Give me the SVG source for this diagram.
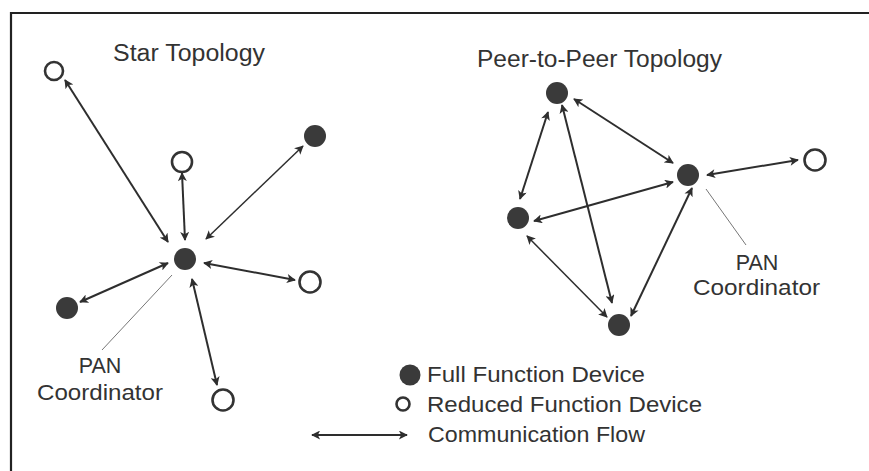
<svg xmlns="http://www.w3.org/2000/svg" width="869" height="471" viewBox="0 0 869 471">
<style>
  .t { font-family: "Liberation Sans", Arial, sans-serif; fill: #333; }
  .title { font-size: 23px; }
  .lbl { font-size: 21.5px; }
  .ffd { fill: #3a3a3a; }
  .rfd { fill: #fff; stroke: #333; stroke-width: 2.6; }
  .c { stroke: #2e2e2e; stroke-width: 2; fill: none; marker-start: url(#ah); marker-end: url(#ah); }
  .cthin { stroke-width: 1.5; }
  .lead { stroke: #777; stroke-width: 1; fill: none; }
</style>
<defs>
  <marker id="ah" viewBox="0 0 10 10" refX="9" refY="5" markerWidth="10" markerHeight="9" markerUnits="userSpaceOnUse" orient="auto-start-reverse">
    <path d="M0,0 L10,5 L0,10 L2.5,5 z" fill="#2e2e2e"/>
  </marker>
</defs>
<rect width="869" height="471" fill="#fff"/>
<g id="frame" stroke="#222" stroke-width="2.2">
  <line x1="10" y1="13" x2="869" y2="13"/>
  <line x1="11" y1="12" x2="11" y2="471"/>
</g>

<g id="connectors">
  <!-- star -->
  <line class="c" x1="65" y1="80" x2="168" y2="242"/>
  <line class="c" x1="182" y1="173" x2="185" y2="240"/>
  <line class="c cthin" x1="303" y1="146" x2="206" y2="239"/>
  <line class="c" x1="168" y1="263" x2="80" y2="302"/>
  <line class="c" x1="204" y1="263" x2="295" y2="280"/>
  <line class="c" x1="192" y1="279" x2="217" y2="385"/>
  <!-- peer to peer -->
  <line class="c" x1="574" y1="99" x2="673" y2="163"/>
  <line class="c" x1="548" y1="112" x2="520" y2="199"/>
  <line class="c" x1="562" y1="105" x2="612" y2="303"/>
  <line class="c" x1="534" y1="221" x2="673" y2="182"/>
  <line class="c cthin" x1="527" y1="236" x2="607" y2="317"/>
  <line class="c" x1="631" y1="316" x2="692" y2="188"/>
  <line class="c" x1="707" y1="175" x2="798" y2="160"/>
  <!-- legend -->
  <line class="c" x1="312" y1="435" x2="407" y2="435"/>
  <!-- leaders -->
  <line class="lead" x1="172" y1="275" x2="102" y2="350"/>
  <line class="lead" x1="706" y1="189" x2="746" y2="245"/>
</g>

<g id="star-title"><text class="t title" x="113" y="61" textLength="152" lengthAdjust="spacingAndGlyphs">Star Topology</text></g>
<g id="p2p-title"><text class="t title" x="477" y="67" textLength="245" lengthAdjust="spacingAndGlyphs">Peer-to-Peer Topology</text></g>

<g id="star-center"><circle class="ffd" cx="185" cy="259" r="11"/></g>
<g id="star-rfd-tl"><circle class="rfd" cx="54" cy="71" r="9"/></g>
<g id="star-rfd-top"><circle class="rfd" cx="182" cy="162" r="10"/></g>
<g id="star-ffd-tr"><circle class="ffd" cx="315" cy="136" r="11"/></g>
<g id="star-ffd-left"><circle class="ffd" cx="67" cy="308" r="11"/></g>
<g id="star-rfd-right"><circle class="rfd" cx="310" cy="282" r="10.5"/></g>
<g id="star-rfd-bottom"><circle class="rfd" cx="223" cy="400" r="10.5"/></g>
<g id="star-pan-label">
  <text class="t lbl" x="100" y="373" text-anchor="middle">PAN</text>
  <text class="t lbl" x="37" y="400" textLength="126" lengthAdjust="spacingAndGlyphs">Coordinator</text>
</g>

<g id="p2p-top"><circle class="ffd" cx="557" cy="93" r="11"/></g>
<g id="p2p-left"><circle class="ffd" cx="518" cy="218" r="11"/></g>
<g id="p2p-bottom"><circle class="ffd" cx="619" cy="325" r="11"/></g>
<g id="p2p-pan"><circle class="ffd" cx="688" cy="175" r="11"/></g>
<g id="p2p-rfd"><circle class="rfd" cx="815" cy="160" r="10.5"/></g>
<g id="p2p-pan-label">
  <text class="t lbl" x="757" y="270" text-anchor="middle">PAN</text>
  <text class="t lbl" x="693" y="295" textLength="127" lengthAdjust="spacingAndGlyphs">Coordinator</text>
</g>

<g id="legend-ffd">
  <circle class="ffd" cx="410" cy="375" r="10.5"/>
  <text class="t lbl" x="427" y="382" textLength="218" lengthAdjust="spacingAndGlyphs">Full Function Device</text>
</g>
<g id="legend-rfd">
  <circle class="rfd" cx="403" cy="404" r="6.5"/>
  <text class="t lbl" x="427" y="412" textLength="275" lengthAdjust="spacingAndGlyphs">Reduced Function Device</text>
</g>
<g id="legend-flow">
  <text class="t lbl" x="428" y="442" textLength="217" lengthAdjust="spacingAndGlyphs">Communication Flow</text>
</g>
</svg>
